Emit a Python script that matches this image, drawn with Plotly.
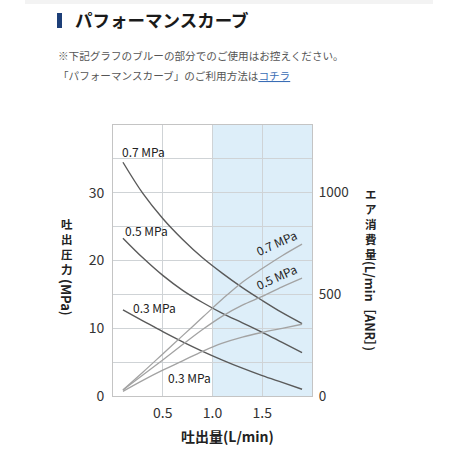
import plotly.graph_objects as go

# ---- data ----
flow = [0.1, 0.3, 0.5, 0.7, 0.9, 1.1, 1.3, 1.5, 1.7, 1.9]
press_07 = [34.5, 29.9, 26.2, 23.1, 20.4, 18.1, 16.0, 14.1, 12.3, 10.7]
press_05 = [23.3, 20.4, 17.8, 15.6, 13.8, 12.2, 10.8, 9.4, 7.9, 6.4]
press_03 = [12.7, 11.1, 9.5, 8.0, 6.6, 5.3, 4.1, 3.0, 2.0, 1.0]
air_07 = [30, 117, 207, 297, 387, 477, 560, 627, 690, 747]
air_05 = [30, 103, 177, 253, 327, 393, 447, 490, 537, 580]
air_03 = [23, 77, 127, 173, 220, 260, 290, 313, 333, 353]
x_ticks = [0.5, 1.0, 1.5]
x_ticktext = ["0.5", "1.0", "1.5"]
y_ticks = [0, 5, 10, 15, 20, 25, 30, 35, 40]
y_ticktext = ["0", "", "10", "", "20", "", "30", "", ""]
y2_ticks = [0, 500, 1000]
caution_range = [1.0, 2.0]

FONT = "Noto Sans CJK JP"
W, H = 453, 451
L, R, T, B = 113, 312, 125, 396


def px(xp):
    return (xp - L) / (R - L)


def py(yp):
    return (B - yp) / (B - T)


fig = go.Figure()

dark = "#5a5a5a"
light = "#a3a3a3"
for ys in (press_07, press_05, press_03):
    fig.add_trace(go.Scatter(x=flow, y=ys, mode="lines", line=dict(color=dark, width=1.4, shape="spline"),
                             showlegend=False, hoverinfo="skip"))
for ys in (air_07, air_05, air_03):
    fig.add_trace(go.Scatter(x=flow, y=ys, yaxis="y2", mode="lines",
                             line=dict(color=light, width=1.3, shape="spline"),
                             showlegend=False, hoverinfo="skip"))

shapes = [
    dict(type="rect", xref="x", yref="paper", x0=caution_range[0], x1=caution_range[1], y0=0, y1=1,
         fillcolor="#ddeef9", line=dict(width=0), layer="below"),
    dict(type="rect", xref="paper", yref="paper", x0=px(57), x1=px(62), y0=py(13), y1=py(28),
         fillcolor="#1d3f78", line=dict(width=0)),
    dict(type="rect", xref="paper", yref="paper", x0=px(25), x1=px(433), y0=py(0), y1=py(4),
         fillcolor="#f3f3f3", line=dict(width=0)),
]

ann = []


def txt(text, x, y, size, color="#222", xanchor="center", angle=0, xref="paper", yref="paper",
        yanchor="middle"):
    ann.append(dict(text=text, x=x, y=y, xref=xref, yref=yref, showarrow=False, xanchor=xanchor,
                    yanchor=yanchor, textangle=angle, borderpad=0,
                    font=dict(family=FONT, size=size, color=color)))


# header
txt("<b>パフォーマンスカーブ</b>", px(74), py(20), 17.5, "#1a1a1a", xanchor="left")
txt("※下記グラフのブルーの部分でのご使用はお控えください。", px(57), py(56), 10.6, "#555", xanchor="left")
txt("「パフォーマンスカーブ」のご利用方法は<span style='color:#3a6db5'><u>コチラ</u></span>",
    px(57), py(75), 10.6, "#555", xanchor="left")

# curve labels (data coords)
txt("0.7 MPa", 0.31, 36.1, 12, xref="x", yref="y")
txt("0.5 MPa", 0.34, 24.4, 12, xref="x", yref="y")
txt("0.3 MPa", 0.42, 13.0, 12, xref="x", yref="y")
txt("0.3 MPa", 0.77, 2.7, 12, xref="x", yref="y")
txt("0.7 MPa", 1.64, 22.6, 12, angle=-24, xref="x", yref="y")
txt("0.5 MPa", 1.64, 17.6, 12, angle=-24, xref="x", yref="y")

# axis titles (vertical Japanese)
txt("<b>" + "<br>".join("吐出圧力") + "</b>", px(67), py(215), 11.5, "#222", yanchor="top")
txt("<b>(MPa)</b>", px(67), py(297), 13, "#222", angle=90)
txt("<b>" + "<br>".join("エア消費量") + "</b>", px(371), py(185), 11.5, "#222", yanchor="top")
txt("<b>(L/min［ANR］)</b>", px(371), py(306), 12.5, "#222", angle=90)
txt("<b>吐出量(L/min)</b>", px(227), py(436), 14, "#222")

fig.update_layout(
    width=W, height=H,
    margin=dict(l=L, r=W - R, t=T, b=H - B),
    paper_bgcolor="white", plot_bgcolor="white",
    shapes=shapes, annotations=ann,
    font=dict(family=FONT, size=14, color="#333"),
    xaxis=dict(range=[0, 2.0], tickvals=x_ticks, ticktext=x_ticktext, showgrid=True,
               gridcolor="#cfd3d6", gridwidth=1, showline=True, linecolor="#c4c4c4", mirror=True,
               ticks="outside", ticklen=4, tickcolor="rgba(0,0,0,0)", zeroline=False,
               tickfont=dict(size=14, color="#333")),
    yaxis=dict(range=[0, 40], tickvals=y_ticks, ticktext=y_ticktext, showgrid=True,
               gridcolor="#cfd3d6", gridwidth=1, showline=True, linecolor="#c4c4c4", mirror=True,
               ticks="outside", ticklen=5, tickcolor="rgba(0,0,0,0)", zeroline=False,
               tickfont=dict(size=14, color="#333")),
    yaxis2=dict(range=[0, 4000 / 3], overlaying="y", side="right", tickvals=y2_ticks,
                showgrid=False, zeroline=False, showline=False, ticks="outside", ticklen=3,
                tickcolor="rgba(0,0,0,0)", tickfont=dict(size=13.5, color="#333")),
)

fig.write_html("out.html")
